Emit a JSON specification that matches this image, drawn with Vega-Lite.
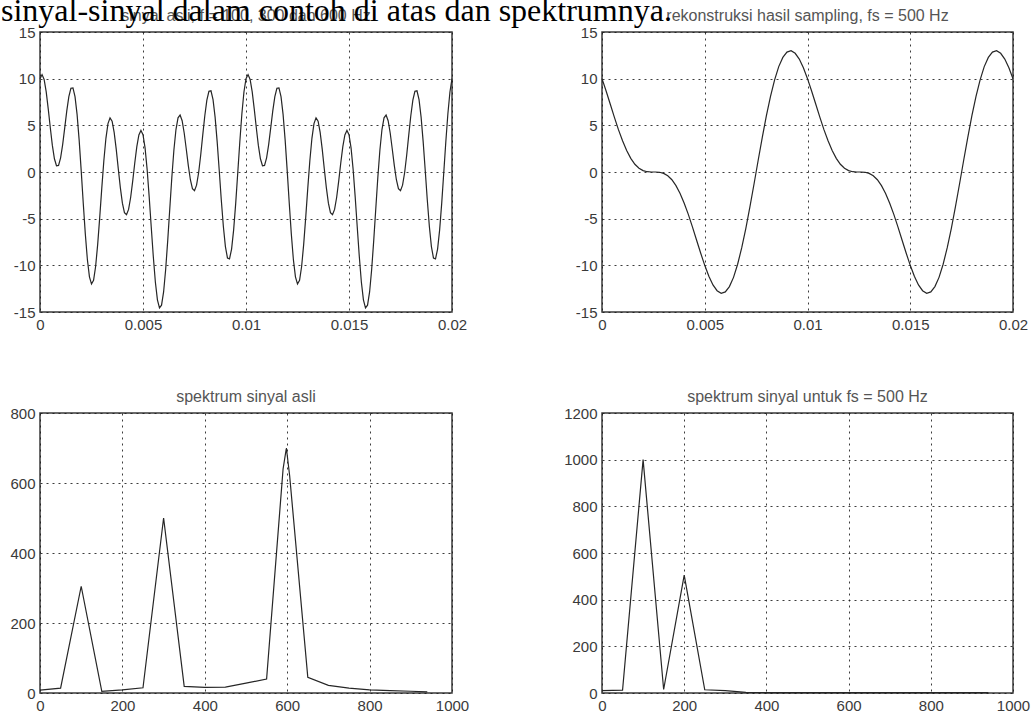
{
  "$schema": "https://vega.github.io/schema/vega-lite/v6.json",
  "background": "white",
  "padding": {"left": 1, "top": -5, "right": 0, "bottom": 0},
  "title": {
    "text": "sinyal-sinyal dalam contoh di atas dan spektrumnya.",
    "anchor": "start",
    "frame": "group",
    "font": "Liberation Serif",
    "fontSize": 32,
    "fontWeight": "normal",
    "color": "#000000",
    "baseline": "alphabetic",
    "dx": -39,
    "offset": -46
  },
  "bounds": "flush",
  "columns": 2,
  "spacing": {"row": 101, "column": 150},
  "datasets": {
    "orig": [
      {"t": 0, "v": 10.00}, {"t": 0.0001, "v": 10.44}, {"t": 0.0002, "v": 9.92}, {"t": 0.0003, "v": 8.61}, {"t": 0.0004, "v": 6.77},
      {"t": 0.0005, "v": 4.74}, {"t": 0.0006, "v": 2.85}, {"t": 0.0007, "v": 1.42}, {"t": 0.0008, "v": 0.67}, {"t": 0.0009, "v": 0.71},
      {"t": 0.0010, "v": 1.52}, {"t": 0.0011, "v": 2.94}, {"t": 0.0012, "v": 4.73}, {"t": 0.0013, "v": 6.55}, {"t": 0.0014, "v": 8.07},
      {"t": 0.0015, "v": 8.97}, {"t": 0.0016, "v": 9.01}, {"t": 0.0017, "v": 8.08}, {"t": 0.0018, "v": 6.17}, {"t": 0.0019, "v": 3.44},
      {"t": 0.0020, "v": 0.15}, {"t": 0.0021, "v": -3.34}, {"t": 0.0022, "v": -6.64}, {"t": 0.0023, "v": -9.38}, {"t": 0.0024, "v": -11.23},
      {"t": 0.0025, "v": -12.00}, {"t": 0.0026, "v": -11.61}, {"t": 0.0027, "v": -10.13}, {"t": 0.0028, "v": -7.76}, {"t": 0.0029, "v": -4.83},
      {"t": 0.0030, "v": -1.70}, {"t": 0.0031, "v": 1.23}, {"t": 0.0032, "v": 3.61}, {"t": 0.0033, "v": 5.19}, {"t": 0.0034, "v": 5.80},
      {"t": 0.0035, "v": 5.45}, {"t": 0.0036, "v": 4.25}, {"t": 0.0037, "v": 2.45}, {"t": 0.0038, "v": 0.35}, {"t": 0.0039, "v": -1.68},
      {"t": 0.0040, "v": -3.34}, {"t": 0.0041, "v": -4.35}, {"t": 0.0042, "v": -4.58}, {"t": 0.0043, "v": -4.01}, {"t": 0.0044, "v": -2.73},
      {"t": 0.0045, "v": -0.97}, {"t": 0.0046, "v": 0.96}, {"t": 0.0047, "v": 2.71}, {"t": 0.0048, "v": 3.97}, {"t": 0.0049, "v": 4.45},
      {"t": 0.0050, "v": 4.00}, {"t": 0.0051, "v": 2.58}, {"t": 0.0052, "v": 0.29}, {"t": 0.0053, "v": -2.65}, {"t": 0.0054, "v": -5.89},
      {"t": 0.0055, "v": -9.06}, {"t": 0.0056, "v": -11.78}, {"t": 0.0057, "v": -13.69}, {"t": 0.0058, "v": -14.56}, {"t": 0.0059, "v": -14.27},
      {"t": 0.0060, "v": -12.85}, {"t": 0.0061, "v": -10.45}, {"t": 0.0062, "v": -7.35}, {"t": 0.0063, "v": -3.93}, {"t": 0.0064, "v": -0.57},
      {"t": 0.0065, "v": 2.36}, {"t": 0.0066, "v": 4.55}, {"t": 0.0067, "v": 5.81}, {"t": 0.0068, "v": 6.10}, {"t": 0.0069, "v": 5.49},
      {"t": 0.0070, "v": 4.18}, {"t": 0.0071, "v": 2.46}, {"t": 0.0072, "v": 0.68}, {"t": 0.0073, "v": -0.83}, {"t": 0.0074, "v": -1.79},
      {"t": 0.0075, "v": -2.00}, {"t": 0.0076, "v": -1.41}, {"t": 0.0077, "v": -0.08}, {"t": 0.0078, "v": 1.80}, {"t": 0.0079, "v": 3.95},
      {"t": 0.0080, "v": 6.03}, {"t": 0.0081, "v": 7.70}, {"t": 0.0082, "v": 8.65}, {"t": 0.0083, "v": 8.70}, {"t": 0.0084, "v": 7.76},
      {"t": 0.0085, "v": 5.88}, {"t": 0.0086, "v": 3.25}, {"t": 0.0087, "v": 0.18}, {"t": 0.0088, "v": -2.98}, {"t": 0.0089, "v": -5.82},
      {"t": 0.0090, "v": -7.99}, {"t": 0.0091, "v": -9.21}, {"t": 0.0092, "v": -9.31}, {"t": 0.0093, "v": -8.26}, {"t": 0.0094, "v": -6.20},
      {"t": 0.0095, "v": -3.36}, {"t": 0.0096, "v": -0.08}, {"t": 0.0097, "v": 3.25}, {"t": 0.0098, "v": 6.24}, {"t": 0.0099, "v": 8.57},
      {"t": 0.0100, "v": 10.00}, {"t": 0.0101, "v": 10.44}, {"t": 0.0102, "v": 9.92}, {"t": 0.0103, "v": 8.61}, {"t": 0.0104, "v": 6.77},
      {"t": 0.0105, "v": 4.74}, {"t": 0.0106, "v": 2.85}, {"t": 0.0107, "v": 1.42}, {"t": 0.0108, "v": 0.67}, {"t": 0.0109, "v": 0.71},
      {"t": 0.0110, "v": 1.52}, {"t": 0.0111, "v": 2.94}, {"t": 0.0112, "v": 4.73}, {"t": 0.0113, "v": 6.55}, {"t": 0.0114, "v": 8.07},
      {"t": 0.0115, "v": 8.97}, {"t": 0.0116, "v": 9.01}, {"t": 0.0117, "v": 8.08}, {"t": 0.0118, "v": 6.17}, {"t": 0.0119, "v": 3.44},
      {"t": 0.0120, "v": 0.15}, {"t": 0.0121, "v": -3.34}, {"t": 0.0122, "v": -6.64}, {"t": 0.0123, "v": -9.38}, {"t": 0.0124, "v": -11.23},
      {"t": 0.0125, "v": -12.00}, {"t": 0.0126, "v": -11.61}, {"t": 0.0127, "v": -10.13}, {"t": 0.0128, "v": -7.76}, {"t": 0.0129, "v": -4.83},
      {"t": 0.0130, "v": -1.70}, {"t": 0.0131, "v": 1.23}, {"t": 0.0132, "v": 3.61}, {"t": 0.0133, "v": 5.19}, {"t": 0.0134, "v": 5.80},
      {"t": 0.0135, "v": 5.45}, {"t": 0.0136, "v": 4.25}, {"t": 0.0137, "v": 2.45}, {"t": 0.0138, "v": 0.35}, {"t": 0.0139, "v": -1.68},
      {"t": 0.0140, "v": -3.34}, {"t": 0.0141, "v": -4.35}, {"t": 0.0142, "v": -4.58}, {"t": 0.0143, "v": -4.01}, {"t": 0.0144, "v": -2.73},
      {"t": 0.0145, "v": -0.97}, {"t": 0.0146, "v": 0.96}, {"t": 0.0147, "v": 2.71}, {"t": 0.0148, "v": 3.97}, {"t": 0.0149, "v": 4.45},
      {"t": 0.0150, "v": 4.00}, {"t": 0.0151, "v": 2.58}, {"t": 0.0152, "v": 0.29}, {"t": 0.0153, "v": -2.65}, {"t": 0.0154, "v": -5.89},
      {"t": 0.0155, "v": -9.06}, {"t": 0.0156, "v": -11.78}, {"t": 0.0157, "v": -13.69}, {"t": 0.0158, "v": -14.56}, {"t": 0.0159, "v": -14.27},
      {"t": 0.0160, "v": -12.85}, {"t": 0.0161, "v": -10.45}, {"t": 0.0162, "v": -7.35}, {"t": 0.0163, "v": -3.93}, {"t": 0.0164, "v": -0.57},
      {"t": 0.0165, "v": 2.36}, {"t": 0.0166, "v": 4.55}, {"t": 0.0167, "v": 5.81}, {"t": 0.0168, "v": 6.10}, {"t": 0.0169, "v": 5.49},
      {"t": 0.0170, "v": 4.18}, {"t": 0.0171, "v": 2.46}, {"t": 0.0172, "v": 0.68}, {"t": 0.0173, "v": -0.83}, {"t": 0.0174, "v": -1.79},
      {"t": 0.0175, "v": -2.00}, {"t": 0.0176, "v": -1.41}, {"t": 0.0177, "v": -0.08}, {"t": 0.0178, "v": 1.80}, {"t": 0.0179, "v": 3.95},
      {"t": 0.0180, "v": 6.03}, {"t": 0.0181, "v": 7.70}, {"t": 0.0182, "v": 8.65}, {"t": 0.0183, "v": 8.70}, {"t": 0.0184, "v": 7.76},
      {"t": 0.0185, "v": 5.88}, {"t": 0.0186, "v": 3.25}, {"t": 0.0187, "v": 0.18}, {"t": 0.0188, "v": -2.98}, {"t": 0.0189, "v": -5.82},
      {"t": 0.0190, "v": -7.99}, {"t": 0.0191, "v": -9.21}, {"t": 0.0192, "v": -9.31}, {"t": 0.0193, "v": -8.26}, {"t": 0.0194, "v": -6.20},
      {"t": 0.0195, "v": -3.36}, {"t": 0.0196, "v": -0.08}, {"t": 0.0197, "v": 3.25}, {"t": 0.0198, "v": 6.24}, {"t": 0.0199, "v": 8.57},
      {"t": 0.0200, "v": 10.00}
    ],
    "recon": [
      {"t": 0, "v": 10.00}, {"t": 0.0002, "v": 8.68}, {"t": 0.0004, "v": 7.28}, {"t": 0.0006, "v": 5.88}, {"t": 0.0008, "v": 4.54},
      {"t": 0.0010, "v": 3.34}, {"t": 0.0012, "v": 2.30}, {"t": 0.0014, "v": 1.46}, {"t": 0.0016, "v": 0.83}, {"t": 0.0018, "v": 0.41},
      {"t": 0.0020, "v": 0.15}, {"t": 0.0022, "v": 0.03}, {"t": 0.0024, "v": 0.00}, {"t": 0.0026, "v": 0.00}, {"t": 0.0028, "v": -0.03},
      {"t": 0.0030, "v": -0.15}, {"t": 0.0032, "v": -0.41}, {"t": 0.0034, "v": -0.83}, {"t": 0.0036, "v": -1.46}, {"t": 0.0038, "v": -2.30},
      {"t": 0.0040, "v": -3.34}, {"t": 0.0042, "v": -4.54}, {"t": 0.0044, "v": -5.88}, {"t": 0.0046, "v": -7.28}, {"t": 0.0048, "v": -8.68},
      {"t": 0.0050, "v": -10.00}, {"t": 0.0052, "v": -11.16}, {"t": 0.0054, "v": -12.10}, {"t": 0.0056, "v": -12.72}, {"t": 0.0058, "v": -12.99},
      {"t": 0.0060, "v": -12.85}, {"t": 0.0062, "v": -12.28}, {"t": 0.0064, "v": -11.29}, {"t": 0.0066, "v": -9.88}, {"t": 0.0068, "v": -8.11},
      {"t": 0.0070, "v": -6.03}, {"t": 0.0072, "v": -3.72}, {"t": 0.0074, "v": -1.26}, {"t": 0.0076, "v": 1.26}, {"t": 0.0078, "v": 3.72},
      {"t": 0.0080, "v": 6.03}, {"t": 0.0082, "v": 8.11}, {"t": 0.0084, "v": 9.88}, {"t": 0.0086, "v": 11.29}, {"t": 0.0088, "v": 12.28},
      {"t": 0.0090, "v": 12.85}, {"t": 0.0092, "v": 12.99}, {"t": 0.0094, "v": 12.72}, {"t": 0.0096, "v": 12.10}, {"t": 0.0098, "v": 11.16},
      {"t": 0.0100, "v": 10.00}, {"t": 0.0102, "v": 8.68}, {"t": 0.0104, "v": 7.28}, {"t": 0.0106, "v": 5.88}, {"t": 0.0108, "v": 4.54},
      {"t": 0.0110, "v": 3.34}, {"t": 0.0112, "v": 2.30}, {"t": 0.0114, "v": 1.46}, {"t": 0.0116, "v": 0.83}, {"t": 0.0118, "v": 0.41},
      {"t": 0.0120, "v": 0.15}, {"t": 0.0122, "v": 0.03}, {"t": 0.0124, "v": 0.00}, {"t": 0.0126, "v": 0.00}, {"t": 0.0128, "v": -0.03},
      {"t": 0.0130, "v": -0.15}, {"t": 0.0132, "v": -0.41}, {"t": 0.0134, "v": -0.83}, {"t": 0.0136, "v": -1.46}, {"t": 0.0138, "v": -2.30},
      {"t": 0.0140, "v": -3.34}, {"t": 0.0142, "v": -4.54}, {"t": 0.0144, "v": -5.88}, {"t": 0.0146, "v": -7.28}, {"t": 0.0148, "v": -8.68},
      {"t": 0.0150, "v": -10.00}, {"t": 0.0152, "v": -11.16}, {"t": 0.0154, "v": -12.10}, {"t": 0.0156, "v": -12.72}, {"t": 0.0158, "v": -12.99},
      {"t": 0.0160, "v": -12.85}, {"t": 0.0162, "v": -12.28}, {"t": 0.0164, "v": -11.29}, {"t": 0.0166, "v": -9.88}, {"t": 0.0168, "v": -8.11},
      {"t": 0.0170, "v": -6.03}, {"t": 0.0172, "v": -3.72}, {"t": 0.0174, "v": -1.26}, {"t": 0.0176, "v": 1.26}, {"t": 0.0178, "v": 3.72},
      {"t": 0.0180, "v": 6.03}, {"t": 0.0182, "v": 8.11}, {"t": 0.0184, "v": 9.88}, {"t": 0.0186, "v": 11.29}, {"t": 0.0188, "v": 12.28},
      {"t": 0.0190, "v": 12.85}, {"t": 0.0192, "v": 12.99}, {"t": 0.0194, "v": 12.72}, {"t": 0.0196, "v": 12.10}, {"t": 0.0198, "v": 11.16},
      {"t": 0.0200, "v": 10.00}
    ],
    "spec_asli": [
      {"f": 0, "v": 8}, {"f": 50, "v": 14}, {"f": 100, "v": 305}, {"f": 150, "v": 5}, {"f": 200, "v": 9},
      {"f": 250, "v": 15}, {"f": 300, "v": 500}, {"f": 350, "v": 19}, {"f": 400, "v": 16}, {"f": 450, "v": 17},
      {"f": 500, "v": 28}, {"f": 550, "v": 40}, {"f": 590, "v": 640}, {"f": 598, "v": 700}, {"f": 606, "v": 620},
      {"f": 650, "v": 45}, {"f": 700, "v": 22}, {"f": 750, "v": 14}, {"f": 800, "v": 9}, {"f": 850, "v": 7},
      {"f": 900, "v": 5}, {"f": 940, "v": 3}
    ],
    "spec_fs500": [
      {"f": 0, "v": 10}, {"f": 50, "v": 12}, {"f": 100, "v": 1000}, {"f": 150, "v": 15}, {"f": 200, "v": 505},
      {"f": 250, "v": 14}, {"f": 300, "v": 10}, {"f": 350, "v": 3}, {"f": 400, "v": 2}, {"f": 450, "v": 2},
      {"f": 500, "v": 2}, {"f": 550, "v": 2}, {"f": 600, "v": 2}, {"f": 650, "v": 2}, {"f": 700, "v": 2},
      {"f": 750, "v": 2}, {"f": 800, "v": 2}, {"f": 850, "v": 2}, {"f": 900, "v": 2}, {"f": 940, "v": 2}
    ]
  },
  "concat": [
    {
      "width": 412,
      "height": 280,
      "title": "sinyal asli, f = 100, 300 dan 600 Hz",
      "data": {"name": "orig"},
      "mark": {"type": "line", "color": "#262626", "strokeWidth": 1.2},
      "encoding": {
        "x": {"field": "t", "type": "quantitative", "title": null,
              "scale": {"domain": [0, 0.02], "nice": false},
              "axis": {"values": [0, 0.005, 0.01, 0.015, 0.02]}},
        "y": {"field": "v", "type": "quantitative", "title": null,
              "scale": {"domain": [-15, 15], "nice": false},
              "axis": {"values": [-15, -10, -5, 0, 5, 10, 15]}}
      }
    },
    {
      "width": 411,
      "height": 280,
      "title": "rekonstruksi hasil sampling, fs = 500 Hz",
      "data": {"name": "recon"},
      "mark": {"type": "line", "color": "#262626", "strokeWidth": 1.2},
      "encoding": {
        "x": {"field": "t", "type": "quantitative", "title": null,
              "scale": {"domain": [0, 0.02], "nice": false},
              "axis": {"values": [0, 0.005, 0.01, 0.015, 0.02]}},
        "y": {"field": "v", "type": "quantitative", "title": null,
              "scale": {"domain": [-15, 15], "nice": false},
              "axis": {"values": [-15, -10, -5, 0, 5, 10, 15]}}
      }
    },
    {
      "width": 412,
      "height": 280,
      "title": "spektrum sinyal asli",
      "data": {"name": "spec_asli"},
      "mark": {"type": "line", "color": "#262626", "strokeWidth": 1.2},
      "encoding": {
        "x": {"field": "f", "type": "quantitative", "title": null,
              "scale": {"domain": [0, 1000], "nice": false},
              "axis": {"values": [0, 200, 400, 600, 800, 1000]}},
        "y": {"field": "v", "type": "quantitative", "title": null,
              "scale": {"domain": [0, 800], "nice": false},
              "axis": {"values": [0, 200, 400, 600, 800]}}
      }
    },
    {
      "width": 411,
      "height": 280,
      "title": "spektrum sinyal untuk fs = 500 Hz",
      "data": {"name": "spec_fs500"},
      "mark": {"type": "line", "color": "#262626", "strokeWidth": 1.2},
      "encoding": {
        "x": {"field": "f", "type": "quantitative", "title": null,
              "scale": {"domain": [0, 1000], "nice": false},
              "axis": {"values": [0, 200, 400, 600, 800, 1000]}},
        "y": {"field": "v", "type": "quantitative", "title": null,
              "scale": {"domain": [0, 1200], "nice": false},
              "axis": {"values": [0, 200, 400, 600, 800, 1000, 1200]}}
      }
    }
  ],
  "config": {
    "view": {"stroke": "#3a3a3a", "strokeWidth": 1.5},
    "axis": {
      "domain": false,
      "ticks": false,
      "labelPadding": 5,
      "labelFont": "Liberation Sans",
      "labelFontSize": 15,
      "labelColor": "#3a3a3a",
      "labelFlush": false,
      "labelOverlap": false,
      "labelExpr": "'' + datum.value",
      "grid": true,
      "gridColor": "#1a1a1a",
      "gridDash": [2, 4],
      "gridWidth": 1,
      "gridOpacity": 0.85
    },
    "title": {
      "font": "Liberation Sans",
      "fontSize": 16,
      "fontWeight": "normal",
      "color": "#555555",
      "baseline": "alphabetic",
      "frame": "group",
      "offset": 1,
      "anchor": "middle"
    }
  }
}
